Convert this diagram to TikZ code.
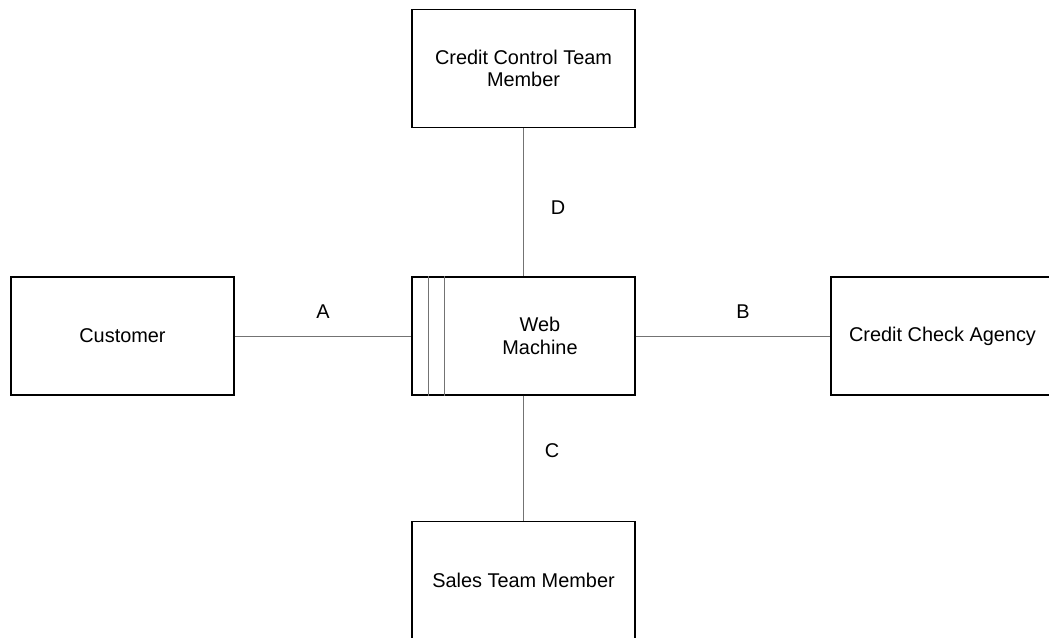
\documentclass[tikz,border=0pt]{standalone}
\usepackage{fontspec}
\setmainfont{Liberation Sans}
\begin{document}
\begin{tikzpicture}[x=1pt,y=-1pt,
  every node/.style={font=\fontsize{19.9}{22.5}\selectfont, align=center},
  entity/.style={draw=black, line width=1.1pt, fill=white, inner sep=0pt,
    minimum width=223pt, minimum height=118pt},
  link/.style={draw=black!55, line width=1pt},
  stripe/.style={draw=black!55, line width=1.5pt},
  tag/.style={inner sep=0pt}]
\useasboundingbox (0,0) rectangle (1049,637);
\clip (0,0) rectangle (1049,637);

% external entities around the system box
\node[entity] (cust)   at (122.5,336)  {Customer};
\node[entity] (agency) at (942.5,336)  {Credit Check Agency};
\node[entity] (ctrl)   at (523.5,68.5) {Credit Control Team\\Member};
\node[entity] (sales)  at (523.5,580.5) {Sales Team Member};

% the system: a box with two marker stripes on its left side
\node[entity] (web) at (523.5,336) {};
\draw[stripe] ([xshift=17pt]web.north west) -- ([xshift=17pt]web.south west);
\draw[stripe] ([xshift=33pt]web.north west) -- ([xshift=33pt]web.south west);
\node (webtext) at (540,336) {Web\\Machine};

% interfaces
\draw[link] (cust.east) -- (web.west);
\draw[link] (web.east) -- (agency.west);
\draw[link] (ctrl.south) -- (web.north);
\draw[link] (web.south) -- (sales.north);

\node[tag] (la) at (323,312) {A};
\node[tag] (lb) at (743,312) {B};
\node[tag] (ld) at (558,208) {D};
\node[tag] (lc) at (552,451) {C};
\end{tikzpicture}
\end{document}
